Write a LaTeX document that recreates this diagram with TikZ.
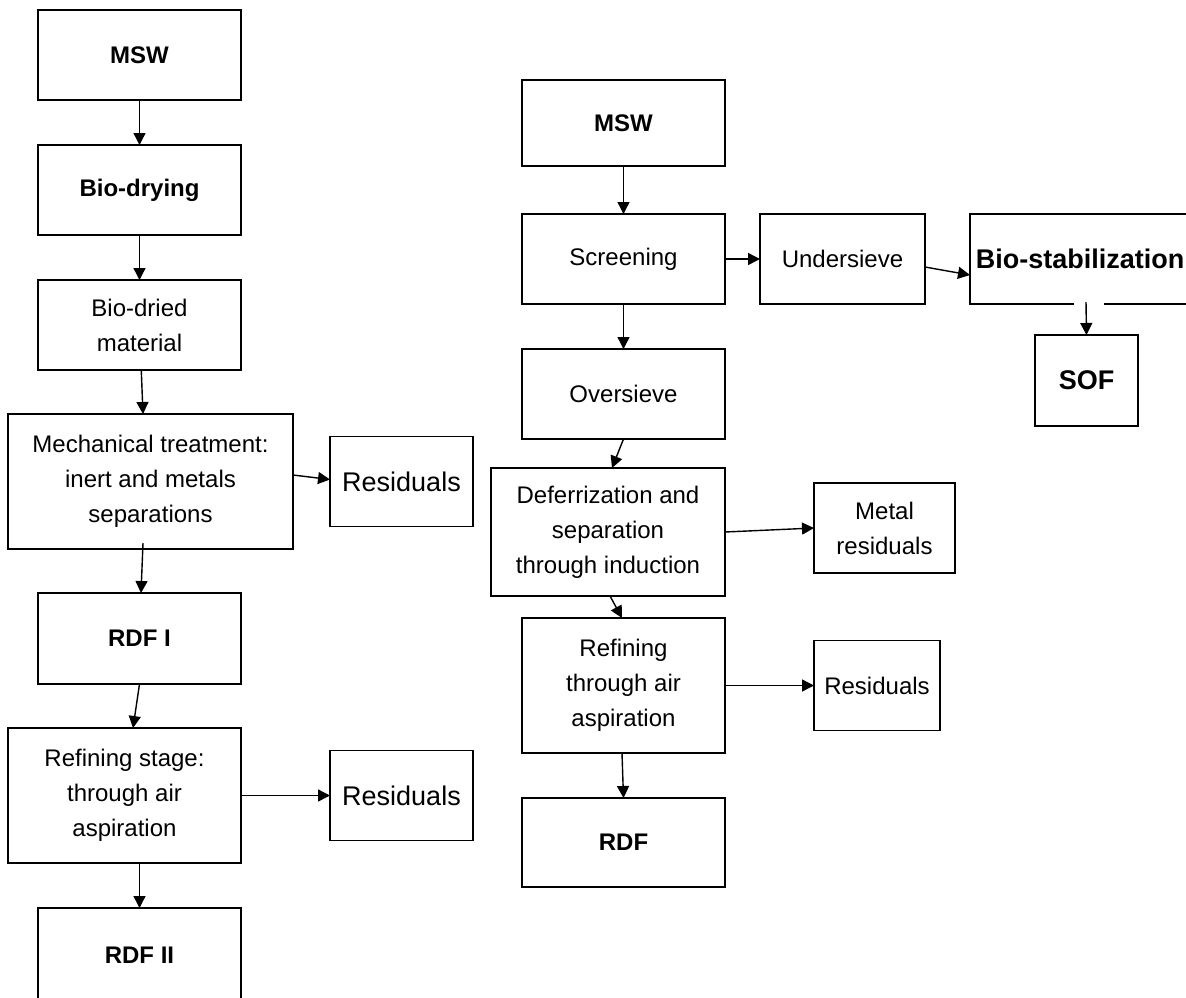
\documentclass[tikz,border=0pt]{standalone}
\usepackage{fontspec}
\setmainfont{Liberation Sans}
\usetikzlibrary{arrows.meta}
\usetikzlibrary{positioning,calc}
\tikzset{
	every node/.style={font=\fontsize{24}{35}\selectfont}
}
\tikzset{
	->,>={Triangle[length=12pt,width=12pt]},node distance=45pt,
	every edge/.style={draw,line width=1.4pt},
	box/.style={rectangle,draw,line width=1.7pt,inner sep=0pt,outer sep=0pt,align=center,minimum width=203pt,minimum height=90pt},
	title/.style={font=\fontsize{24}{35}\selectfont\bfseries},
	big/.style={font=\fontsize{27}{35}\selectfont}
}

\begin{document}
\begin{tikzpicture}
      \useasboundingbox (0,0) rectangle (1186pt,-997pt);
      \node[box,title] (msw1) at (139.5pt,-55pt) {MSW};
      \node[box,title] (biodrying) [below=of msw1] {Bio-drying};
      \node[box] (biodried) [below=of biodrying] {Bio-dried\\material};
      \node[box,minimum width=285pt,minimum height=135pt] (mech) [below=44pt of biodried,xshift=11pt] {Mechanical treatment:\\inert and metals\\separations};
      \node[box,big,minimum width=143pt] (res1) [right=37pt of mech] {Residuals};
      \node[box,title,minimum height=91pt] (rdf1) [below=44pt of mech,xshift=-11pt] {RDF I};
      \node[box,minimum width=233pt,minimum height=135pt] (refining) [below=44pt of rdf1,xshift=-15pt] {Refining stage:\\through air\\aspiration};
      \node[box,big,minimum width=143pt] (res2) [right=89pt of refining] {Residuals};
      \node[box,title,minimum height=95pt] (rdf2) [below=45pt of refining,xshift=15pt] {RDF II};
      \node[box,title,minimum height=86pt] (msw2) at (623.5pt,-123pt) {MSW};
      \node[box] (screening) [below=48pt of msw2] {Screening};
      \node[box,minimum width=165pt] (undersieve) [right=35pt of screening] {Undersieve};
      \node[box,big,minimum width=220pt,font=\fontsize{27}{35}\selectfont\bfseries] (biostab) [right=of undersieve] {Bio-stabilization};
      \node[box,minimum width=103pt,minimum height=91pt,font=\fontsize{27}{35}\selectfont\bfseries] (sof) [below=31pt of biostab,xshift=6.5pt] {SOF};
      \node[box] (oversieve) [below=of screening] {Oversieve};
      \node[box,minimum width=234pt,minimum height=128pt] (defer) [below=29pt of oversieve,xshift=-15.5pt] {Deferrization and\\separation\\through induction};
      \node[box,minimum width=141pt] (metal) [right=89pt of defer,yshift=4pt] {Metal\\residuals};
      \node[box,minimum height=135pt] (refining2) [below=22pt of defer,xshift=15.5pt] {Refining\\through air\\aspiration};
      \node[box,minimum width=126pt] (res3) [right=89pt of refining2] {Residuals};
      \node[box,title,minimum height=89pt] (rdf) [below=of refining2] {RDF};
      \path (msw1) edge (biodrying);
      \path (biodrying) edge (biodried);
      \path (biodried) edge ([xshift=-7.5pt]mech.north);
      \path ([yshift=6.5pt]mech.east) edge ([yshift=2pt]res1.west);
      \path ([xshift=-7.5pt,yshift=6pt]mech.south) edge ([xshift=1.5pt]rdf1.north);
      \path (rdf1.south) edge ([xshift=8.5pt]refining.north);
      \path (refining.east) edge (res2.west);
      \path ([xshift=15pt]refining.south) edge (rdf2.north);
      \path (msw2) edge (screening);
      \path (screening) edge (undersieve);
      \path ([yshift=-8pt]undersieve.east) edge ([yshift=-16pt]biostab.west);
      \draw[-,white,line width=4pt] ([xshift=-6pt]biostab.south) -- ([xshift=24pt]biostab.south);
      \path ([xshift=6pt,yshift=2pt]biostab.south) edge (sof.north);
      \path (screening) edge (oversieve);
      \path (oversieve.south) edge ([xshift=4pt]defer.north);
      \path (defer.east) edge (metal.west);
      \path ([xshift=2pt]defer.south) edge ([xshift=-1.5pt]refining2.north);
      \path (refining2.east) edge (res3.west);
      \path ([xshift=-1.5pt]refining2.south) edge (rdf.north);
    \end{tikzpicture}
\end{document}
